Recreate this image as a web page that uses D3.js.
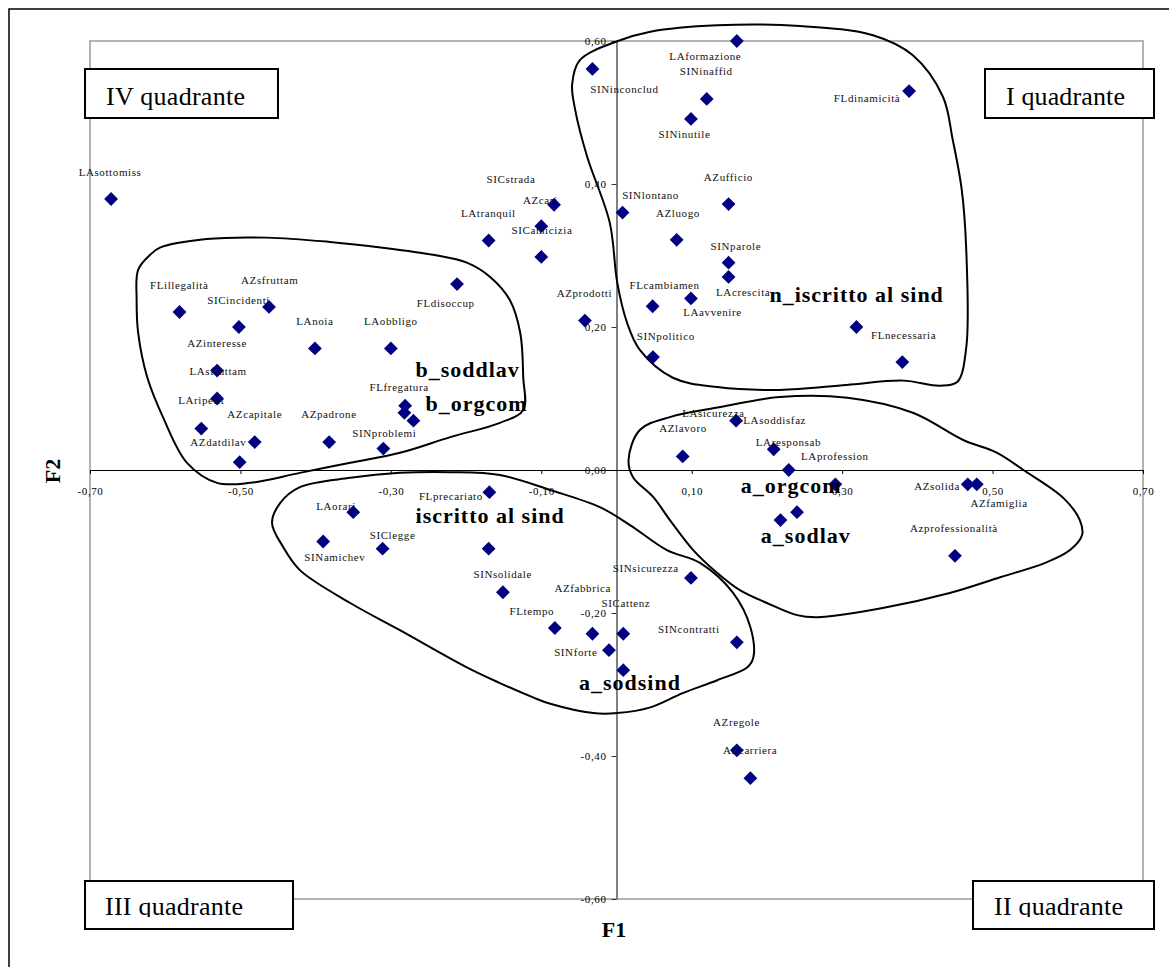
<!DOCTYPE html>
<html>
<head>
<meta charset="utf-8">
<script src="https://cdn.jsdelivr.net/npm/d3@7"></script>
<style>
    body { margin: 0; background: #fff; }
    svg { display: block; font-family: "Liberation Serif", "Times New Roman", serif; }
</style>
</head>
<body>
<div id="chart-area"></div>
<script>

// Active modalities (F1, F2 coordinates)
const pointNames = ["LAsottomiss", "LAformazione", "SINinconclud", "SINinaffid", "SINinutile", "FLdinamicità",
    "AZcari", "SICstrada", "SICamicizia", "LAtranquil", "SINlontano", "AZufficio", "AZluogo", "SINparole",
    "LAcrescita", "FLcambiamen", "LAavvenire", "SINpolitico", "FLnecessaria", "AZprodotti", "FLdisoccup",
    "FLillegalità", "AZsfruttam", "SICincidenti", "LAnoia", "LAobbligo", "AZinteresse", "LAsfruttam",
    "LAripetit", "AZcapitale", "AZdatdilav", "AZpadrone", "SINproblemi", "FLfregatura", "LAsicurezza",
    "LAsoddisfaz", "AZlavoro", "LAresponsab", "LAprofession", "AZsolida", "AZfamiglia", "Azprofessionalità",
    "FLprecariato", "LAorari", "SINamichev", "SIClegge", "SINsolidale", "FLtempo", "AZfabbrica", "SICattenz",
    "SINforte", "SINsicurezza", "SINcontratti", "AZregole", "AZcarriera"];
const f1Values = [-0.672, 0.160, -0.032, 0.120, 0.099, 0.389,
    -0.083, -0.100, -0.100, -0.170, 0.008, 0.149, 0.080, 0.149,
    0.149, 0.048, 0.099, 0.0485, 0.380, -0.042, -0.212,
    -0.581, -0.462, -0.502, -0.401, -0.300, -0.531, -0.531,
    -0.552, -0.481, -0.501, -0.382, -0.310, -0.281, 0.159,
    0.209, 0.088, 0.229, 0.291, 0.467, 0.479, 0.450,
    -0.169, -0.350, -0.390, -0.311, -0.151, -0.082, -0.032, 0.009,
    -0.010, 0.099, 0.160, 0.160, 0.178];
const f2Values = [0.379, 0.600, 0.561, 0.519, 0.491, 0.530,
    0.371, 0.341, 0.298, 0.321, 0.360, 0.372, 0.322, 0.290,
    0.270, 0.229, 0.240, 0.158, 0.151, 0.209, 0.260,
    0.221, 0.228, 0.200, 0.170, 0.170, 0.139, 0.100,
    0.058, 0.039, 0.011, 0.039, 0.030, 0.090, 0.069,
    0.029, 0.019, 0.000, -0.020, -0.020, -0.020, -0.120,
    -0.031, -0.059, -0.100, -0.110, -0.171, -0.221, -0.229, -0.229,
    -0.252, -0.151, -0.241, -0.392, -0.431];

// Supplementary modalities (bold labels)
const suppNames = ["n_iscritto al sind", "b_soddlav", "b_orgcom", "a_orgcom", "a_sodlav", "iscritto al sind", "a_sodsind"];
const suppF1 = [0.319, -0.282, -0.270, 0.218, 0.240, -0.170, 0.009];
const suppF2 = [0.200, 0.080, 0.069, -0.070, -0.059, -0.110, -0.280];

const xTicks = [-0.7, -0.5, -0.3, -0.1, 0.1, 0.3, 0.5, 0.7];
const yTicks = [0.6, 0.4, 0.2, 0, -0.2, -0.4, -0.6];
const quadrantNames = ["IV quadrante", "I quadrante", "III quadrante", "II quadrante"];

// Hand drawn group outlines (F1, F2 units)
const outlineNIscritto = [[0.002,0.600],[0.045,0.613],[0.134,0.622],[0.244,0.621],[0.341,0.608],[0.394,0.580],
    [0.434,0.522],[0.447,0.462],[0.459,0.392],[0.465,0.308],[0.465,0.171],[0.453,0.123],[0.430,0.118],
    [0.381,0.125],[0.306,0.119],[0.217,0.112],[0.134,0.116],[0.075,0.129],[0.031,0.168],[0.014,0.206],
    [0.001,0.262],[-0.009,0.346],[-0.039,0.438],[-0.055,0.504],[-0.059,0.539],[-0.049,0.573]];
const outlineBSoddlav = [[-0.607,0.311],[-0.545,0.323],[-0.465,0.325],[-0.381,0.319],[-0.311,0.311],
    [-0.244,0.301],[-0.199,0.290],[-0.168,0.270],[-0.142,0.238],[-0.128,0.192],[-0.124,0.130],[-0.124,0.084],
    [-0.155,0.066],[-0.221,0.046],[-0.288,0.024],[-0.354,0.010],[-0.421,-0.004],[-0.487,-0.018],[-0.531,-0.018],
    [-0.571,0.010],[-0.603,0.074],[-0.624,0.130],[-0.636,0.192],[-0.638,0.238],[-0.636,0.280],[-0.620,0.301]];
const outlineIscritto = [[-0.458,-0.074],[-0.447,-0.046],[-0.421,-0.024],[-0.354,-0.011],[-0.288,-0.004],
    [-0.221,-0.003],[-0.155,-0.007],[-0.088,-0.028],[-0.022,-0.052],[0.018,-0.077],[0.067,-0.112],[0.111,-0.130],
    [0.155,-0.172],[0.178,-0.220],[0.182,-0.262],[0.174,-0.276],[0.134,-0.294],[0.088,-0.312],[0.045,-0.332],
    [0.001,-0.340],[-0.031,-0.340],[-0.088,-0.327],[-0.111,-0.318],[-0.155,-0.298],[-0.199,-0.276],
    [-0.288,-0.224],[-0.354,-0.186],[-0.421,-0.140],[-0.443,-0.108]];
const outlineAOrgcom = [[0.031,0.056],[0.071,0.074],[0.138,0.088],[0.217,0.102],[0.307,0.101],[0.394,0.080],
    [0.461,0.042],[0.506,0.024],[0.541,0.000],[0.594,-0.039],[0.616,-0.070],[0.619,-0.091],[0.603,-0.112],
    [0.570,-0.130],[0.510,-0.150],[0.443,-0.172],[0.354,-0.193],[0.267,-0.206],[0.240,-0.203],[0.200,-0.186],
    [0.164,-0.168],[0.134,-0.144],[0.102,-0.112],[0.071,-0.070],[0.049,-0.038],[0.022,-0.010],[0.016,0.014]];


class FactorMap {

    constructor(parentElement) {
        this.parentElement = parentElement;
    }

    initVis() {
        let vis = this;

        vis.width = 1169;
        vis.height = 967;
        vis.plot = {left: 90, right: 1143, top: 41, bottom: 899};

        vis.svg = d3.select("#" + vis.parentElement).append("svg")
            .attr("width", vis.width)
            .attr("height", vis.height);

        // Scales
        vis.x = d3.scaleLinear()
            .domain([-0.7, 0.7])
            .range([vis.plot.left, vis.plot.right]);
        vis.y = d3.scaleLinear()
            .domain([-0.6, 0.6])
            .range([vis.plot.bottom, vis.plot.top]);

        // Italian number format: 0,60
        let it = d3.formatLocale({decimal: ",", thousands: ".", grouping: [3], currency: ["€", ""], minus: "-"});
        vis.fmt = it.format(".2f");

        vis.wrangleData();
    }

    wrangleData() {
        let vis = this;

        vis.points = pointNames.map((name, i) => ({name: name, f1: f1Values[i], f2: f2Values[i]}));
        vis.supp = suppNames.map((name, i) => ({name: name, f1: suppF1[i], f2: suppF2[i]}));
        vis.outlines = [outlineNIscritto, outlineBSoddlav, outlineIscritto, outlineAOrgcom];

        vis.updateVis();
    }

    updateVis() {
        let vis = this;

        // label nudges in px (label centre, baseline) relative to the marker
        let nudge = {
            "LAsottomiss": [-1, -23.5], "LAformazione": [-31.5, 19], "SINinconclud": [32, 24.3],
            "SINinaffid": [-0.5, -23.5], "SINinutile": [-6.5, 18.6], "FLdinamicità": [-42, 11.3],
            "AZcari": [-13.8, -1], "SICstrada": [-30.3, -42.7], "SICamicizia": [0.7, -23.4],
            "LAtranquil": [-0.3, -23.4], "SINlontano": [28, -13.4], "AZufficio": [-0.2, -22.6],
            "AZluogo": [1.3, -22.7], "SINparole": [7.3, -12.7], "LAcrescita": [14.6, 19],
            "FLcambiamen": [12, -17], "LAavvenire": [21.5, 17.3], "SINpolitico": [12.8, -17.4],
            "FLnecessaria": [1.3, -23.3], "AZprodotti": [-0.5, -24], "FLdisoccup": [-11.3, 22.4],
            "FLillegalità": [-0.3, -23], "AZsfruttam": [0.7, -23.4], "SICincidenti": [-0.3, -23.4],
            "LAnoia": [0, -23.7], "LAobbligo": [0, -23.7], "AZinteresse": [0, -24], "LAsfruttam": [1, -24],
            "LAripetit": [0, -24.3], "AZcapitale": [0, -24], "AZdatdilav": [-21.3, -16], "AZpadrone": [-0.3, -24],
            "SINproblemi": [1, -11.6], "FLfregatura": [-6, -14.3], "LAsicurezza": [-22.8, -4],
            "LAsoddisfaz": [1, -25], "AZlavoro": [0.3, -24.6], "LAresponsab": [-0.3, -24.3],
            "LAprofession": [-0.5, -24], "AZsolida": [-30.7, 5.7], "AZfamiglia": [22.3, 22.4],
            "Azprofessionalità": [-1, -24.3], "FLprecariato": [-38.5, 7.7], "LAorari": [-17.2, -2.3],
            "SINamichev": [11.7, 19], "SIClegge": [10, -10], "SINsolidale": [-0.2, -14], "FLtempo": [-23, -13.4],
            "AZfabbrica": [-9.7, -41.7], "SICattenz": [2.7, -26.3], "SINforte": [-33.2, 6],
            "SINsicurezza": [-45.2, -6], "SINcontratti": [-48, -9.7], "AZregole": [-0.3, -24], "AZcarriera": [-0.2, -24.3],
            "n_iscritto al sind": [0.2, -24.7], "b_soddlav": [63.2, -36.3], "b_orgcom": [63.2, -9.7],
            "a_orgcom": [10.6, -26.7], "a_sodlav": [8.8, 30.4], "iscritto al sind": [1.5, -25.6], "a_sodsind": [6.7, 20]
        };

        // Outer frame
        vis.svg.append("rect")
            .attr("x", 9).attr("y", 9)
            .attr("width", 1300).attr("height", 1100)
            .attr("fill", "none")
            .attr("stroke", "#000")
            .attr("stroke-width", 1.5);

        // Plot area border
        vis.svg.append("rect")
            .attr("x", vis.plot.left).attr("y", vis.plot.top)
            .attr("width", vis.plot.right - vis.plot.left)
            .attr("height", vis.plot.bottom - vis.plot.top)
            .attr("fill", "none")
            .attr("stroke", "#999")
            .attr("stroke-width", 1.5);

        // Axes
        let yAxis = d3.axisLeft(vis.y)
            .tickValues(yTicks)
            .tickFormat(vis.fmt)
            .tickSize(5)
            .tickSizeOuter(0)
            .tickPadding(5);
        let xAxis = d3.axisBottom(vis.x)
            .tickValues(xTicks)
            .tickFormat(vis.fmt)
            .tickSize(4)
            .tickSizeOuter(0)
            .tickPadding(13);

        let gy = vis.svg.append("g")
            .attr("class", "y-axis axis")
            .attr("transform", `translate(${vis.x(0)},0)`)
            .call(yAxis);
        gy.select(".domain").attr("stroke", "#808080").attr("stroke-width", 2);
        gy.selectAll(".tick line").attr("stroke", "#333");

        let gx = vis.svg.append("g")
            .attr("class", "x-axis axis")
            .attr("transform", `translate(0,${vis.y(0)})`)
            .call(xAxis);
        gx.select(".domain").attr("stroke", "#000").attr("stroke-width", 1.2);
        gx.selectAll(".tick line").attr("stroke", "#000");

        vis.svg.selectAll(".axis")
            .attr("font-family", null)
            .attr("font-size", 11)
            .selectAll("text")
            .attr("fill", "#000")
            .attr("letter-spacing", "0.6px");

        // Group outlines
        let outline = d3.line()
            .x(d => vis.x(d[0]))
            .y(d => vis.y(d[1]))
            .curve(d3.curveCatmullRomClosed.alpha(0.5));
        vis.svg.selectAll(".outline")
            .data(vis.outlines)
            .enter().append("path")
            .attr("class", "outline")
            .attr("d", outline)
            .attr("fill", "none")
            .attr("stroke", "#000")
            .attr("stroke-width", 2);

        // Markers
        let diamond = d3.symbol().type(d3.symbolSquare).size(95);
        vis.svg.selectAll(".marker")
            .data(vis.points.concat(vis.supp))
            .enter().append("path")
            .attr("class", "marker")
            .attr("d", diamond)
            .attr("transform", d => `translate(${vis.x(d.f1)},${vis.y(d.f2)}) rotate(45)`)
            .attr("fill", "#000080");

        // Labels
        vis.svg.selectAll(".point-label")
            .data(vis.points)
            .enter().append("text")
            .attr("class", "point-label")
            .attr("x", d => vis.x(d.f1) + (nudge[d.name] || [0, -24])[0])
            .attr("y", d => vis.y(d.f2) + (nudge[d.name] || [0, -24])[1])
            .attr("text-anchor", "middle")
            .attr("font-size", 11)
            .attr("letter-spacing", "0.6px")
            .attr("fill", "#111")
            .text(d => d.name);

        vis.svg.selectAll(".supp-label")
            .data(vis.supp)
            .enter().append("text")
            .attr("class", "supp-label")
            .attr("x", d => vis.x(d.f1) + (nudge[d.name] || [0, -24])[0])
            .attr("y", d => vis.y(d.f2) + (nudge[d.name] || [0, -24])[1])
            .attr("text-anchor", "middle")
            .attr("font-size", 22)
            .attr("font-weight", "bold")
            .attr("letter-spacing", "1px")
            .attr("fill", "#000")
            .text(d => d.name);

        // Quadrant boxes
        let boxes = [
            {x: 85, y: 69, w: 193, h: 49, tx: 106, ty: 105, tw: 139},
            {x: 985, y: 69, w: 169, h: 49, tx: 1006, ty: 105, tw: 119},
            {x: 85, y: 881, w: 208, h: 48, tx: 105, ty: 915, tw: 138},
            {x: 973, y: 881, w: 181, h: 48, tx: 994, ty: 915, tw: 129}
        ];
        let defs = vis.svg.append("defs");
        boxes.forEach((b, i) => {
            defs.append("clipPath").attr("id", "qclip" + i)
                .append("rect")
                .attr("x", b.x).attr("y", b.y)
                .attr("width", b.w).attr("height", i < 2 ? b.h : 36);
            let g = vis.svg.append("g");
            g.append("rect")
                .attr("x", b.x).attr("y", b.y)
                .attr("width", b.w).attr("height", b.h)
                .attr("fill", "#fff")
                .attr("stroke", "#000")
                .attr("stroke-width", 2);
            g.append("text")
                .attr("x", b.tx).attr("y", b.ty)
                .attr("clip-path", `url(#qclip${i})`)
                .attr("font-size", 26)
                .attr("textLength", b.tw)
                .attr("lengthAdjust", "spacing")
                .attr("fill", "#000")
                .text(quadrantNames[i]);
        });

        // Axis titles
        vis.svg.append("text")
            .text("F1")
            .attr("x", 614)
            .attr("y", 937)
            .attr("text-anchor", "middle")
            .attr("font-size", 22)
            .attr("font-weight", "bold");
        vis.svg.append("text")
            .text("F2")
            .attr("transform", "translate(60,471) rotate(-90)")
            .attr("text-anchor", "middle")
            .attr("font-size", 22)
            .attr("font-weight", "bold");
    }
}

let factorMap = new FactorMap("chart-area");
factorMap.initVis();

</script>
</body>
</html>
